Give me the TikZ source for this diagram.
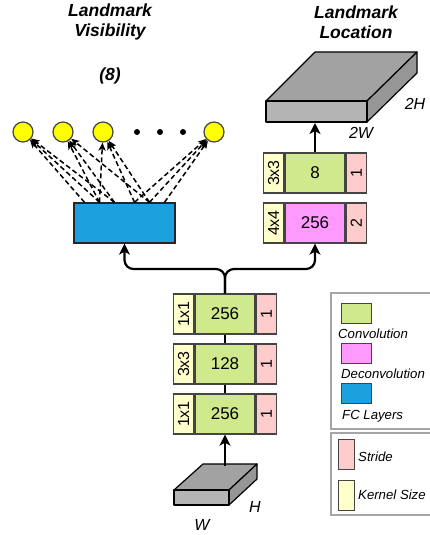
\documentclass[tikz,border=0pt]{standalone}
\usepackage{fontspec}
\setmainfont{Liberation Sans}
\usepackage{graphicx}
\usetikzlibrary{arrows.meta,positioning}
\definecolor{convfill}{RGB}{208,233,140}
\definecolor{deconvfill}{RGB}{255,153,255}
\definecolor{fcfill}{RGB}{29,160,222}
\definecolor{stridefill}{RGB}{255,204,204}
\definecolor{kernelfill}{RGB}{255,255,204}
\definecolor{visfill}{RGB}{255,255,0}
\definecolor{linegray}{RGB}{68,68,68}
\definecolor{legendgray}{RGB}{165,165,165}
\definecolor{slabtop}{RGB}{162,162,162}
\definecolor{slabfront}{RGB}{180,180,180}
\definecolor{slabside}{RGB}{150,150,150}
\tikzset{
  >={Stealth[length=11pt,width=11pt,inset=3pt]},
  layer/.style={
    draw=linegray,
    line width=1.3pt,
    inner sep=0pt,
    minimum height=40pt,
    font=\fontsize{17}{19}\selectfont
  },
  conv/.style={layer,fill=convfill,minimum width=60pt},
  deconv/.style={layer,fill=deconvfill,minimum width=60pt},
  kernel/.style={layer,fill=kernelfill,minimum width=20pt,font=\fontsize{16}{18}\selectfont},
  stride/.style={layer,fill=stridefill,minimum width=20pt,font=\fontsize{16}{18}\selectfont},
  fclayer/.style={draw=black!85,line width=1.3pt,fill=fcfill,minimum width=101pt,minimum height=40pt},
  vis/.style={circle,draw=linegray,line width=1.2pt,fill=visfill,minimum size=20pt,inner sep=0pt},
  more/.style={circle,fill=black,minimum size=6pt,inner sep=0pt},
  slab/.style={draw=black,line width=1.2pt,line join=round},
  arrow/.style={->,line width=2.2pt},
  link/.style={line width=2.2pt},
  visarrow/.style={-{Stealth[length=8pt,width=7pt,inset=2pt]},dash pattern=on 5pt off 3pt,line width=1.5pt},
  title/.style={font=\fontsize{17.5}{20}\selectfont\bfseries\itshape,align=center},
  dim/.style={font=\fontsize{16}{18}\selectfont\itshape},
  legendbox/.style={draw=legendgray,line width=1.8pt},
  swatch/.style={draw=linegray,line width=1pt,inner sep=0pt},
  legendtext/.style={font=\fontsize{13.2}{15}\selectfont\itshape,anchor=west,inner sep=0pt}
}

\begin{document}
\begin{tikzpicture}[x=1pt,y=-1pt]
  \useasboundingbox (0,0) rectangle (430,535);

  % headings
  \node[title] (vistitle) at (110,22) {Landmark\\Visibility};
  \node[title] (loctitle) at (356,22) {Landmark\\Location};
  \node[title] (count) at (110,76) {(8)};

  % visibility branch
  \node[vis] (v1) at (23,132) {};
  \node[vis] (v2) at (63,132) {};
  \node[vis] (v3) at (103,132) {};
  \node[more] (d1) at (137,132) {};
  \node[more] (d2) at (160,132) {};
  \node[more] (d3) at (183,132) {};
  \node[vis] (v4) at (214,132) {};
  \node[fclayer] (fc) at (124.5,223) {};

  \foreach \s/\t in {-40/v1,-25/v1,-10/v1,-25/v2,-10/v2,25/v2,-25/v3,10/v3,25/v3,10/v4,25/v4,40/v4}
    \draw[visarrow] ([xshift=\s]fc.north) -- (\t);

  % location branch
  \filldraw[slab,fill=slabtop] (266,101) -- (315,52) -- (417,52) -- (367,101) -- cycle;
  \filldraw[slab,fill=slabside] (367,101) -- (417,52) -- (417,73) -- (367,122) -- cycle;
  \filldraw[slab,fill=slabfront] (266,101) rectangle (367,122);
  \coordinate (outslab) at (315,123);
  \node[dim] (h2) at (415,104) {2H};
  \node[dim] (w2) at (361,133) {2W};

  \node[conv] (outconv) at (315,173) {8};
  \node[kernel,left=0pt of outconv] (outkern) {\rotatebox{90}{3x3}};
  \node[stride,right=0pt of outconv] (outstrd) {\rotatebox{90}{1}};

  \node[deconv] (deconv) at (315,223) {256};
  \node[kernel,left=0pt of deconv] (deckern) {\rotatebox{90}{4x4}};
  \node[stride,right=0pt of deconv] (decstrd) {\rotatebox{90}{2}};

  \draw[arrow] (outconv.north) -- (outslab);

  % shared stack
  \node[conv] (conv3) at (225,314) {256};
  \node[kernel,left=0pt of conv3] (kern3) {\rotatebox{90}{1x1}};
  \node[stride,right=0pt of conv3] (strd3) {\rotatebox{90}{1}};

  \node[conv] (conv2) at (225,364) {128};
  \node[kernel,left=0pt of conv2] (kern2) {\rotatebox{90}{3x3}};
  \node[stride,right=0pt of conv2] (strd2) {\rotatebox{90}{1}};

  \node[conv] (conv1) at (225,414) {256};
  \node[kernel,left=0pt of conv1] (kern1) {\rotatebox{90}{1x1}};
  \node[stride,right=0pt of conv1] (strd1) {\rotatebox{90}{1}};

  \draw[link] (conv1) -- (conv2);
  \draw[link] (conv2) -- (conv3);

  \coordinate (split) at (225,269);
  \draw[arrow,rounded corners=9pt] (conv3.north) -- (split) -| (fc.south);
  \draw[arrow,rounded corners=9pt] (conv3.north) -- (split) -| (deconv.south);

  % input
  \filldraw[slab,fill=slabtop] (174,490) -- (203,464) -- (257,464) -- (229,490) -- cycle;
  \filldraw[slab,fill=slabside] (229,490) -- (257,464) -- (257,479) -- (229,505) -- cycle;
  \filldraw[slab,fill=slabfront] (174,490) rectangle (229,505);
  \coordinate (inslab) at (225,466);
  \node[dim] (hin) at (255,507) {H};
  \node[dim] (win) at (202,525) {W};
  \draw[arrow] (inslab) -- (conv1.south);

  % legend
  \draw[legendbox] (431,293) -| (331,429) -- (431,429);
  \draw[legendbox] (431,433) -| (331,515) -- (431,515);
  \node[swatch,fill=convfill,minimum width=30pt,minimum height=20pt] (keyconv) at (356,313) {};
  \node[legendtext] (txtconv) at (338,334) {Convolution};
  \node[swatch,fill=deconvfill,minimum width=30pt,minimum height=20pt] (keydeconv) at (356,353) {};
  \node[legendtext] (txtdeconv) at (341,374) {Deconvolution};
  \node[swatch,fill=fcfill,minimum width=30pt,minimum height=20pt] (keyfc) at (356,393) {};
  \node[legendtext] (txtfc) at (342,416) {FC Layers};
  \node[swatch,fill=stridefill,minimum width=16pt,minimum height=30pt] (keystrd) at (346,454) {};
  \node[legendtext] (txtstrd) at (358,457) {Stride};
  \node[swatch,fill=kernelfill,minimum width=16pt,minimum height=30pt] (keykern) at (346,495) {};
  \node[legendtext] (txtkern) at (358,495) {Kernel Size};

\end{tikzpicture}
\end{document}
